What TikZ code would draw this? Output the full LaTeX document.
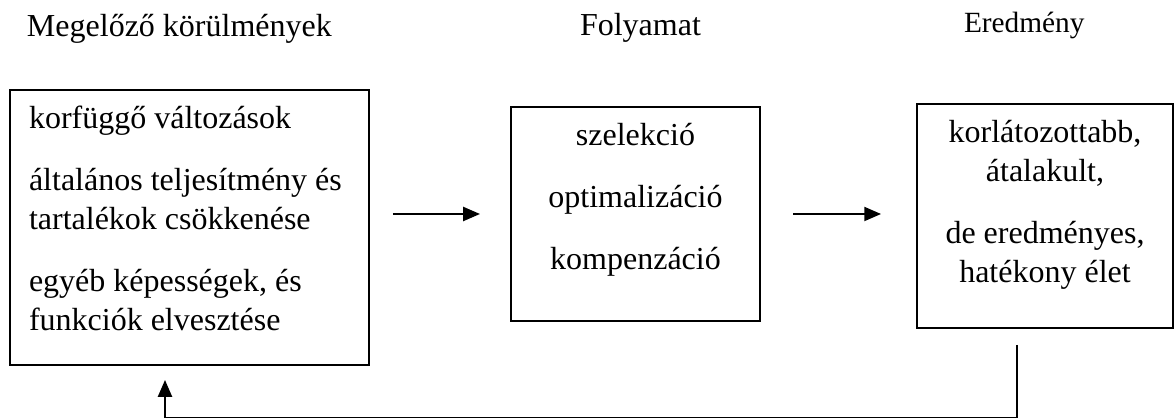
\documentclass[tikz,border=0pt]{standalone}
\usepackage{fontspec}
\setmainfont{Liberation Serif}
\usetikzlibrary{arrows.meta}

\begin{document}
\begin{tikzpicture}[x=0.375pt,y=-0.375pt,
                    line width=0.75pt,
                    box node/.style={draw,rectangle,anchor=north west,inner xsep=7.125pt,inner ysep=0pt,
                                     font=\fontsize{12pt}{14.625pt}\selectfont},
                    head node/.style={anchor=base west,inner sep=0pt,font=\fontsize{12pt}{14.625pt}\selectfont},
                    flow/.style={-{Triangle[length=6.3pt,width=5.25pt]}}
                   ]
               \useasboundingbox (0,0) rectangle (1175,418);
               % headings
               \node[head node] (M) at (26,37) {Megelőző körülmények};
               \node[head node] (F) at (579,36) {Folyamat};
               \node[head node,font=\fontsize{11pt}{13.4pt}\selectfont] (E) at (963,33) {Eredmény};
               % boxes
               \node[box node] (1) at (9,89) {\parbox[c][103.125pt][t]{120.375pt}{\setlength{\parskip}{8.625pt}\raggedright
                   \rule{0pt}{14.625pt}korfüggő változások\par
                   általános teljesítmény és\\ tartalékok csökkenése\par
                   egyéb képességek, és\\ funkciók elvesztése}};
               \node[box node] (2) at (510,106) {\parbox[c][80.25pt][t]{79.125pt}{\setlength{\parskip}{8.625pt}\centering
                   \rule{0pt}{14.625pt}szelekció\par
                   optimalizáció\par
                   kompenzáció}};
               \node[box node] (3) at (916,103) {\parbox[c][84pt][t]{81.75pt}{\setlength{\parskip}{8.625pt}\centering
                   \rule{0pt}{14.625pt}korlátozottabb,\\ átalakult,\par
                   de eredményes,\\ hatékony élet}};
               \path%
                 (1.east |- 2.west) edge[flow,shorten <=8.6pt,shorten >=11.25pt] (2.west)
                 (2.east) edge[flow,shorten <=12pt,shorten >=13.1pt] (2.east -| 3.west);
               % feedback loop
               \draw[flow,shorten <=6pt,shorten >=5.25pt] ([xshift=-10.5pt]3.south) -- ++(0,89) -| ([xshift=-9.19pt]1.south);
           \end{tikzpicture}
\end{document}
